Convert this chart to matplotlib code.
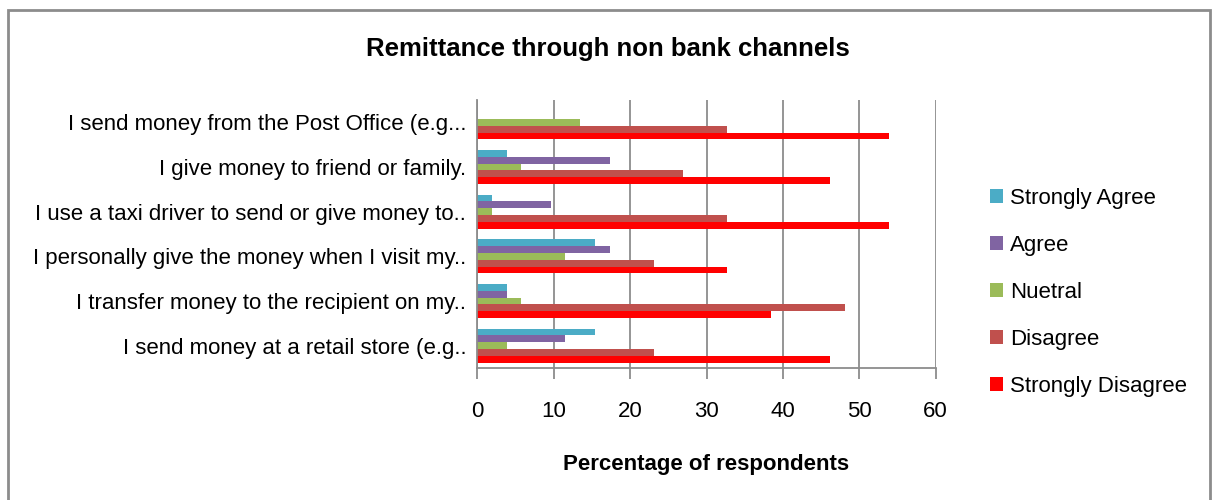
import numpy as np
import matplotlib.pyplot as plt
from matplotlib.patches import Rectangle

plt.rcParams['font.family'] = ['Liberation Sans', 'DejaVu Sans']

# statements, bottom to top as they appear on the axis
statements = [
    "I send money at a retail store (e.g..",
    "I transfer money to the recipient on my..",
    "I personally give the money when I visit my..",
    "I use a taxi driver to send or give money to..",
    "I give money to friend or family.",
    "I send money from the Post Office (e.g...",
]

series_names = ["Strongly Agree", "Agree", "Nuetral", "Disagree", "Strongly Disagree"]
series_colors = ["#4BACC6", "#8064A2", "#9BBB59", "#C0504D", "#FF0000"]

strongly_agree = [15.38, 3.85, 15.38, 1.92, 3.85, 0.0]
agree = [11.54, 3.85, 17.31, 9.62, 17.31, 0.0]
neutral = [3.85, 5.77, 11.54, 1.92, 5.77, 13.46]
disagree = [23.08, 48.08, 23.08, 32.69, 26.92, 32.69]
strongly_disagree = [46.15, 38.46, 32.69, 53.85, 46.15, 53.85]

values = [strongly_agree, agree, neutral, disagree, strongly_disagree]

fig = plt.figure(figsize=(12.16, 5.0), dpi=100)
W, H = 1216, 500

# outer chart frame
fig.patches.append(Rectangle((8 / W, -0.05), (1210 - 8) / W, (500 - 10) / H + 0.05,
                             transform=fig.transFigure, fill=False,
                             edgecolor="#8c8c8c", linewidth=2))

ax = fig.add_axes([477.3 / W, 1 - 368 / H, (935.7 - 477.3) / W, 268 / H])

y = np.arange(len(statements))
bar_h = 0.152
for k, (name, vals, col) in enumerate(zip(series_names, values, series_colors)):
    offset = (2 - k) * bar_h
    ax.barh(y + offset, vals, height=bar_h, color=col, label=name, linewidth=0)

ax.set_xlim(0, 60)
ax.set_ylim(-0.5, len(statements) - 0.5)
ax.set_xticks(np.arange(0, 61, 10))
ax.set_yticks(y)
ax.set_yticklabels(statements, fontsize=16)
ax.tick_params(axis="y", length=0, pad=8)
ax.tick_params(axis="x", length=8, width=1.3, color="#8c8c8c", labelsize=16, pad=16)

ax.grid(axis="x", color="#8c8c8c", linewidth=1.3)
ax.set_axisbelow(True)
for side in ["top", "right"]:
    ax.spines[side].set_visible(False)
for side in ["left", "bottom"]:
    ax.spines[side].set_color("#8c8c8c")
    ax.spines[side].set_linewidth(1.3)

ax.set_xlabel("Percentage of respondents", fontsize=16, fontweight="bold", labelpad=23)

fig.text(608 / W, 1 - 49 / H, "Remittance through non bank channels",
         ha="center", va="center", fontsize=18.5, fontweight="bold")

handles, labels = ax.get_legend_handles_labels()
fig.legend(handles, labels, loc="upper left", bbox_to_anchor=(970 / W, 1 - 168 / H),
           frameon=False, fontsize=16, handlelength=0.6, handleheight=0.6,
           handletextpad=0.3, labelspacing=1.17)

fig.savefig("out.png", dpi=100)
